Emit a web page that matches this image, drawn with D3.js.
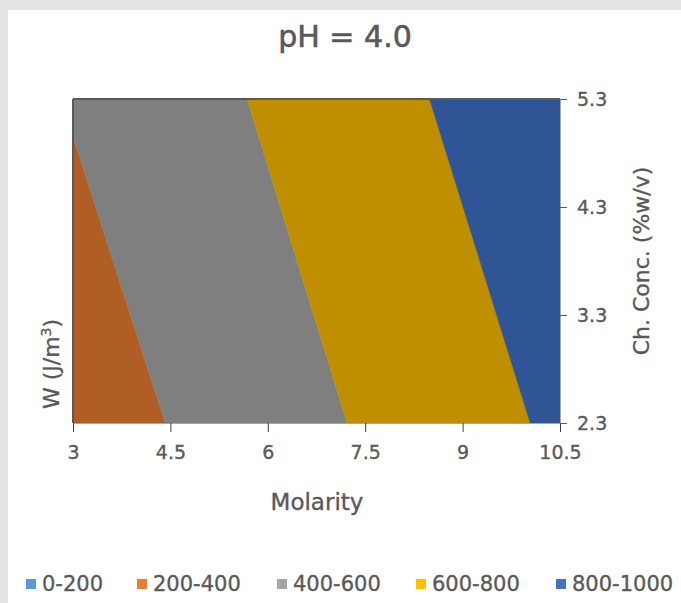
<!DOCTYPE html>
<html>
<head>
<meta charset="utf-8">
<script src="https://cdn.jsdelivr.net/npm/d3@7"></script>
<style>
  html, body { margin: 0; padding: 0; background: #e4e4e4; }
  svg { display: block; }
  text { font-family: "DejaVu Sans", sans-serif; fill: #595959; stroke: #595959; stroke-width: 0.35px; }
</style>
</head>
<body>
<svg id="chart" width="681" height="603"></svg>
<script>
// ---- data ----
const title = "pH = 4.0";
const xLabel = "Molarity";
const yRightLabel = "Ch. Conc. (%w/v)";
const molarityTicks = [3, 4.5, 6, 7.5, 9, 10.5];
const concTicks = [2.3, 3.3, 4.3, 5.3];
const rangeLabels = ["0-200", "200-400", "400-600", "600-800", "800-1000"];
const legendColors = ["#5B9BD5", "#ED7D31", "#A5A5A5", "#FFC000", "#4472C4"];
const surfaceColors = ["#3E72A8", "#B05E23", "#7F7F7F", "#BF8F00", "#2F5597"];
// band regions (Molarity, Ch. Conc.)
const band200_400 = [[3, 2.3], [3, 4.95], [4.42, 2.3]];
const band400_600 = [[3, 4.95], [3, 5.3], [5.68, 5.3], [7.22, 2.3], [4.42, 2.3]];
const band600_800 = [[5.68, 5.3], [8.49, 5.3], [10.04, 2.3], [7.22, 2.3]];
const band800_1000 = [[8.49, 5.3], [10.5, 5.3], [10.5, 2.3], [10.04, 2.3]];

const bandPolys = [
  { range: "200-400", pts: band200_400 },
  { range: "400-600", pts: band400_600 },
  { range: "600-800", pts: band600_800 },
  { range: "800-1000", pts: band800_1000 }
];

const svg = d3.select("#chart");
// white panel
svg.append("rect").attr("x", 8).attr("y", 10).attr("width", 673).attr("height", 593).attr("fill", "#ffffff");

const x = d3.scaleLinear().domain([3, 10.5]).range([73, 560]);
const y = d3.scaleLinear().domain([2.3, 5.3]).range([423, 99]);
const colorOf = d3.scaleOrdinal().domain(rangeLabels).range(surfaceColors);

// surface bands
const line = d3.line().x(d => x(d[0])).y(d => y(d[1]));
svg.append("g").selectAll("path").data(bandPolys).join("path")
  .attr("d", d => line(d.pts) + "Z")
  .attr("fill", d => colorOf(d.range))
  .attr("stroke", d => colorOf(d.range))
  .attr("stroke-width", 0.5);

// frame
svg.append("line").attr("x1", x(3)).attr("x2", x(10.5)).attr("y1", y(5.3)).attr("y2", y(5.3))
  .attr("stroke", "#595959").attr("stroke-width", 2);
svg.append("line").attr("x1", x(3)).attr("x2", x(3)).attr("y1", y(5.3)).attr("y2", y(2.3))
  .attr("stroke", "#595959").attr("stroke-width", 2);

// bottom axis
const xAxis = d3.axisBottom(x).tickValues(molarityTicks).tickSize(9).tickPadding(14)
  .tickFormat(d3.format("~g"));
const gx = svg.append("g").attr("transform", `translate(0,${y(2.3)})`).call(xAxis);
gx.select(".domain").attr("stroke", "#A6A6A6");
gx.selectAll(".tick line").attr("stroke", "#404040");
gx.selectAll(".tick text").attr("font-size", 19).attr("fill", "#595959")
  .style("font-family", "DejaVu Sans, sans-serif");

// right axis
const yAxis = d3.axisRight(y).tickValues(concTicks).tickSize(7).tickPadding(10)
  .tickFormat(d3.format(".1f"));
const gy = svg.append("g").attr("transform", `translate(${x(10.5)},0)`).call(yAxis);
gy.select(".domain").attr("stroke", "#A6A6A6");
gy.selectAll(".tick line").attr("stroke", "#595959");
gy.selectAll(".tick text").attr("font-size", 19).attr("fill", "#595959")
  .style("font-family", "DejaVu Sans, sans-serif");

// title
svg.append("text").attr("x", 345).attr("y", 47).attr("text-anchor", "middle")
  .attr("font-size", 30).style("stroke-width", "0.6px").text(title);

// x axis title
svg.append("text").attr("x", 317).attr("y", 510).attr("text-anchor", "middle")
  .attr("font-size", 23).text(xLabel);

// left axis title W (J/m3)
const lt = svg.append("text").attr("transform", "translate(59,364) rotate(-90)")
  .attr("text-anchor", "middle").attr("font-size", 22);
lt.append("tspan").text("W (J/m");
lt.append("tspan").attr("dy", -8).attr("font-size", 14).text("3");
lt.append("tspan").attr("dy", 8).text(")");

// right axis title
svg.append("text").attr("transform", "translate(649,261) rotate(-90)")
  .attr("text-anchor", "middle").attr("font-size", 22).text(yRightLabel);

// legend
const legendX = [26, 137, 277, 416, 556];
const lg = svg.append("g").selectAll("g").data(rangeLabels).join("g")
  .attr("transform", (d, i) => `translate(${legendX[i]},579)`);
lg.append("rect").attr("width", 10).attr("height", 10).attr("fill", (d, i) => legendColors[i]);
lg.append("text").attr("x", 16).attr("y", 12).attr("font-size", 21).text(d => d);
</script>
</body>
</html>
